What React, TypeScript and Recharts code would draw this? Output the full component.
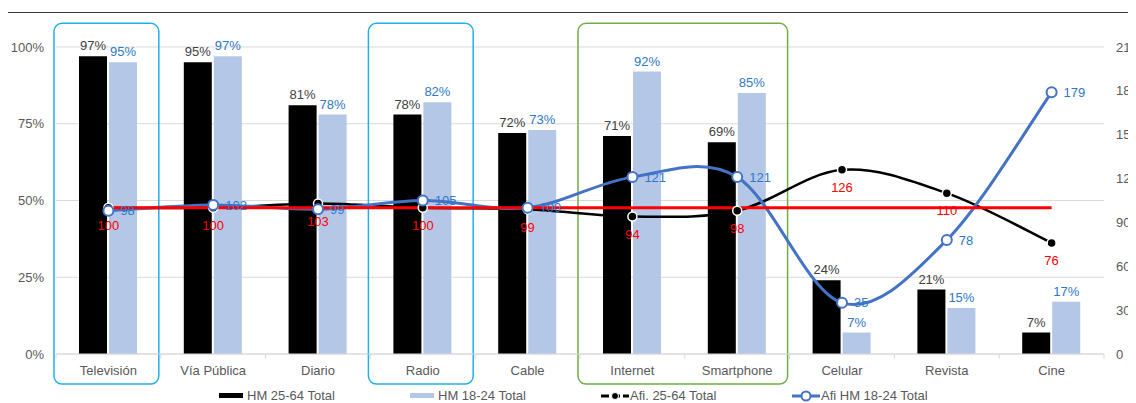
import React from "react";
import {
  Bar,
  CartesianGrid,
  ComposedChart,
  LabelList,
  Line,
  ReferenceArea,
  XAxis,
  YAxis
} from "recharts";

const categories = [
  "Televisión",
  "Vía Pública",
  "Diario",
  "Radio",
  "Cable",
  "Internet",
  "Smartphone",
  "Celular",
  "Revista",
  "Cine"
];
const hm2564 = [97, 95, 81, 78, 72, 71, 69, 24, 21, 7];
const hm1824 = [95, 97, 78, 82, 73, 92, 85, 7, 15, 17];
const afi2564 = [100, 100, 103, 100, 99, 94, 98, 126, 110, 76];
const afi1824 = [98, 102, 99, 105, 100, 121, 121, 35, 78, 179];
const base = [100, 100, 100, 100, 100, 100, 100, 100, 100, 100];

const pctTicks = [0, 25, 50, 75, 100];
const afiTicks = [0, 30, 60, 90, 120, 150, 180, 210];

const data = categories.map((name, i) => ({
  name,
  hm2564: hm2564[i],
  hm1824: hm1824[i],
  afi2564: afi2564[i],
  afi1824: afi1824[i],
  base: base[i]
}));

const GREY = "#595959";
const LABEL_BLUE = "#2E78C7";
const LINE_BLUE = "#4472C4";
const BAR_BLUE = "#B4C7E7";

// Excel-like smoothed line (catmull-rom through every point)
function smoothCurve(context: any) {
  let pts: [number, number][] = [];
  return {
    areaStart() {},
    areaEnd() {},
    lineStart() {
      pts = [];
    },
    lineEnd() {
      const n = pts.length;
      if (!n) return;
      context.moveTo(pts[0][0], pts[0][1]);
      for (let i = 0; i < n - 1; i++) {
        const p0 = pts[Math.max(i - 1, 0)];
        const p1 = pts[i];
        const p2 = pts[i + 1];
        const p3 = pts[Math.min(i + 2, n - 1)];
        context.bezierCurveTo(
          p1[0] + (p2[0] - p0[0]) / 6,
          p1[1] + (p2[1] - p0[1]) / 6,
          p2[0] - (p3[0] - p1[0]) / 6,
          p2[1] - (p3[1] - p1[1]) / 6,
          p2[0],
          p2[1]
        );
      }
    },
    point(x: number, y: number) {
      pts.push([+x, +y]);
    }
  };
}

function CategoryTick(props: any) {
  const { x, y, payload, index, visibleTicksCount } = props;
  const half = payload?.offset ?? 0;
  return (
    <g>
      <line x1={x - half} x2={x - half} y1={y} y2={y + 5} stroke="#D9D9D9" />
      {index === visibleTicksCount - 1 && (
        <line x1={x + half} x2={x + half} y1={y} y2={y + 5} stroke="#D9D9D9" />
      )}
      <text x={x} y={y + 12} dy="0.71em" textAnchor="middle" fill={GREY} fontSize={13}>
        {payload.value}
      </text>
    </g>
  );
}

const boxShape = (color: string) => (p: any) => (
  <rect
    x={p.x - 2}
    y={p.y}
    width={p.width}
    height={p.height}
    rx={8}
    ry={8}
    fill="none"
    stroke={color}
    strokeWidth={1.5}
  />
);

function LegendRow() {
  const item = { display: "flex", alignItems: "center", width: 191, whiteSpace: "nowrap" as const };
  const text = { color: GREY, fontSize: 13, marginLeft: 4 };
  return (
    <div style={{ position: "absolute", left: 219, top: 388, display: "flex" }}>
      <div style={item}>
        <div style={{ width: 24, height: 5, background: "#000" }} />
        <span style={text}>HM 25-64 Total</span>
      </div>
      <div style={item}>
        <div style={{ width: 24, height: 5, background: BAR_BLUE }} />
        <span style={text}>HM 18-24 Total</span>
      </div>
      <div style={item}>
        <svg width={28} height={10}>
          <line x1={0} x2={28} y1={5} y2={5} stroke="#000" strokeWidth={3} strokeDasharray="8 3" />
          <circle cx={14} cy={5} r={3.5} fill="#000" stroke="#fff" strokeWidth={1} />
        </svg>
        <span style={{ ...text, marginLeft: 1 }}>Afi. 25-64 Total</span>
      </div>
      <div style={item}>
        <svg width={28} height={12}>
          <line x1={0} x2={28} y1={6} y2={6} stroke={LINE_BLUE} strokeWidth={3} />
          <circle cx={14} cy={6} r={4.5} fill="#fff" stroke={LINE_BLUE} strokeWidth={2} />
        </svg>
        <span style={{ ...text, marginLeft: 1 }}>Afi HM 18-24 Total</span>
      </div>
    </div>
  );
}

export default function App() {
  return (
    <div
      style={{
        position: "relative",
        marginLeft: -8,
        marginTop: -8,
        width: 1136,
        height: 403,
        overflow: "hidden",
        background: "#fff",
        fontFamily: "'Liberation Sans', Arial, sans-serif"
      }}
    >
      <div
        style={{
          position: "absolute",
          left: 6,
          top: 12,
          width: 1400,
          height: 600,
          borderLeft: "1px solid #3f3f3f",
          borderTop: "1px solid #3f3f3f"
        }}
      />
      <div style={{ position: "absolute", left: 0, top: 0 }}>
        <ComposedChart
          width={1136}
          height={403}
          data={data}
          margin={{ top: 47, right: 0, bottom: 0, left: 0 }}
          barGap={2}
        >
          <CartesianGrid yAxisId="left" vertical={false} stroke="#D9D9D9" />
          <XAxis
            dataKey="name"
            height={49}
            axisLine={{ stroke: "#D9D9D9" }}
            tickLine={false}
            tickSize={0}
            tickMargin={0}
            interval={0}
            tick={<CategoryTick />}
          />
          <YAxis
            yAxisId="left"
            width={56}
            domain={[0, 100]}
            ticks={pctTicks}
            tickFormatter={(v: number) => `${v}%`}
            axisLine={false}
            tickLine={false}
            tickSize={0}
            tickMargin={12}
            tick={{ fill: GREY, fontSize: 13 }}
          />
          <YAxis
            yAxisId="right"
            orientation="right"
            width={32}
            domain={[0, 210]}
            ticks={afiTicks}
            axisLine={false}
            tickLine={false}
            tickSize={0}
            tickMargin={12}
            tick={{ fill: GREY, fontSize: 13, textAnchor: "start" }}
          />
          <ReferenceArea
            yAxisId="left"
            x1="Televisión"
            x2="Televisión"
            y1={-9.8}
            y2={107.7}
            ifOverflow="visible"
            shape={boxShape("#1FB0EC")}
          />
          <ReferenceArea
            yAxisId="left"
            x1="Radio"
            x2="Radio"
            y1={-9.8}
            y2={107.7}
            ifOverflow="visible"
            shape={boxShape("#1FB0EC")}
          />
          <ReferenceArea
            yAxisId="left"
            x1="Internet"
            x2="Smartphone"
            y1={-9.8}
            y2={107.7}
            ifOverflow="visible"
            shape={boxShape("#70AD47")}
          />
          <Bar yAxisId="left" dataKey="hm2564" barSize={28} fill="#000" isAnimationActive={false}>
            <LabelList
              dataKey="hm2564"
              position="top"
              offset={6}
              formatter={(v: any) => `${v}%`}
              fill="#404040"
              fontSize={13}
            />
          </Bar>
          <Bar yAxisId="left" dataKey="hm1824" barSize={28} fill={BAR_BLUE} isAnimationActive={false}>
            <LabelList
              dataKey="hm1824"
              position="top"
              offset={6}
              formatter={(v: any) => `${v}%`}
              fill={LABEL_BLUE}
              fontSize={13}
            />
          </Bar>
          <Line
            yAxisId="right"
            dataKey="afi2564"
            type={smoothCurve as any}
            stroke="#000"
            strokeWidth={2.5}
            dot={{ r: 4.5, fill: "#000", stroke: "#fff", strokeWidth: 1.5 }}
            activeDot={false}
            isAnimationActive={false}
          >
            <LabelList dataKey="afi2564" position="bottom" offset={13} fill="#FF0000" fontSize={13} />
          </Line>
          <Line
            yAxisId="right"
            dataKey="afi1824"
            type={smoothCurve as any}
            stroke={LINE_BLUE}
            strokeWidth={3}
            dot={{ r: 5, fill: "#fff", stroke: LINE_BLUE, strokeWidth: 2 }}
            activeDot={false}
            isAnimationActive={false}
          >
            <LabelList dataKey="afi1824" position="right" offset={12} fill={LABEL_BLUE} fontSize={13} />
          </Line>
          <Line
            yAxisId="right"
            dataKey="base"
            type="linear"
            stroke="#FF0000"
            strokeWidth={3}
            dot={false}
            activeDot={false}
            isAnimationActive={false}
          />
        </ComposedChart>
      </div>
      <LegendRow />
    </div>
  );
}
